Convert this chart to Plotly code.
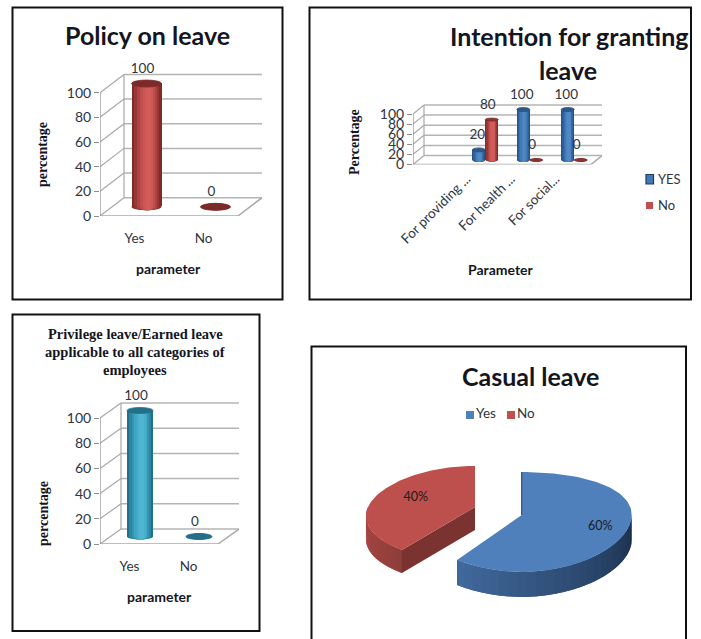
import math
import plotly.graph_objects as go

W, H = 701, 639

# Chart values
policy_categories = ["Yes", "No"]
policy_values = [100, 0]

intention_categories = ["", "For providing ...", "For health ...", "For social..."]
intention_yes = [None, 20, 100, 100]
intention_no = [None, 80, 0, 0]

privilege_categories = ["Yes", "No"]
privilege_values = [100, 0]

casual_labels = ["Yes", "No"]
casual_values = [60, 40]

y_ticks = [0, 20, 40, 60, 80, 100]

SANS = "Lato"
SERIF = "Liberation Serif"
INK = "#15151f"
TICK_INK = "#2e3440"
GRID = "#b4b4b4"
EDGE = "#8c8c8c"
HEADROOM_PX = 24

RED = ["#7e2b29", "#973634", "#ae4341", "#c04e4c", "#cc5755", "#d15c5a"]
BLUE = ["#28517f", "#30609a", "#3a6ea9", "#4379b5", "#4b82bf", "#5088c4"]
TEAL = ["#23708a", "#2b85a1", "#3596b3", "#3fa5c2", "#49afcc", "#4fb5d2"]

fig = go.Figure()
shapes = []
annotations = []


def px_x(px):
    return px / W


def px_y(py):
    return 1 - py / H


def add_text(text, x, y, size, family=SANS, bold=False, angle=0, color=INK):
    annotations.append(dict(
        text=f"<b>{text}</b>" if bold else text, x=px_x(x), y=px_y(y),
        xref="paper", yref="paper", xanchor="center", yanchor="middle",
        showarrow=False, textangle=angle, font=dict(size=size, family=family, color=color),
    ))


def add_frame(x0, y0, x1, y1):
    shapes.append(dict(type="rect", xref="paper", yref="paper", x0=px_x(x0), x1=px_x(x1),
                       y0=px_y(y0), y1=px_y(y1), line=dict(color="#111111", width=2),
                       fillcolor="rgba(0,0,0,0)", layer="below"))


class Panel:
    """An oblique 3-D style column plot on its own pair of axes."""

    def __init__(self, suffix, categories, left, front_right, back_right,
                 zero_y, full_y, depth_y, tick_size=14, tick_angle=0,
                 label_standoff=12, label_shift=0.0):
        self.suffix = suffix
        self.n = len(categories)
        self.cat_px = (front_right - left) / self.n
        self.ppu = (zero_y - full_y) / 100
        self.dx = (back_right - front_right) / self.cat_px
        self.dy = depth_y / self.ppu
        self.xref = "x" + suffix
        self.yref = "y" + suffix
        xname = "xaxis" + suffix
        yname = "yaxis" + suffix
        axes[xname] = dict(
            domain=[px_x(left), px_x(back_right)], automargin=False,
            range=[-0.5, self.n - 0.5 + self.dx], anchor=self.yref,
            tickmode="array", tickvals=[i + label_shift for i in range(self.n)],
            ticktext=categories, ticks="", showgrid=False, zeroline=False, showline=False,
            tickangle=tick_angle, ticklabelstandoff=label_standoff,
            tickfont=dict(size=13.5, family=SANS, color=TICK_INK),
        )
        # The range runs above the back wall so the value labels stay on the axis
        axes[yname] = dict(
            domain=[px_y(zero_y), px_y(full_y - depth_y - HEADROOM_PX)], automargin=False,
            range=[0, 100 + self.dy + HEADROOM_PX / self.ppu], anchor=self.xref,
            tickmode="array", tickvals=y_ticks, ticks="outside", ticklen=5, tickcolor=EDGE,
            tickwidth=1, showgrid=False, zeroline=False, showline=False,
            tickfont=dict(size=tick_size, family=SANS, color=TICK_INK),
        )
        self.walls()

    def line(self, pts, color=GRID, width=1.5):
        for (x0, y0), (x1, y1) in zip(pts, pts[1:]):
            shapes.append(dict(type="line", xref=self.xref, yref=self.yref, x0=x0, y0=y0,
                               x1=x1, y1=y1, line=dict(color=color, width=width), layer="below"))

    def walls(self):
        x0 = -0.5
        x1 = self.n - 0.5
        for v in y_ticks:
            self.line([(x0, v), (x0 + self.dx, v + self.dy)], color="#a8a8a8", width=1.2)
            self.line([(x0 + self.dx, v + self.dy), (x1 + self.dx, v + self.dy)])
        self.line([(x0, 0), (x1, 0), (x1 + self.dx, self.dy)], color="#a8a8a8", width=1.5)
        self.line([(x0, 0), (x0, 100)], color=EDGE, width=1.2)
        self.line([(x0 + self.dx, self.dy), (x0 + self.dx, 100 + self.dy)], color="#a8a8a8", width=1.2)

    def columns(self, values, shades, cap, width_px, cap_px, shift_px=0.0, label_dx=-4.0):
        """Cylinders built from nested bars, so the shading runs dark-light-dark."""
        xoff = self.dx / 2 + shift_px / self.cat_px
        base = self.dy / 2
        width = width_px / self.cat_px
        cap_h = cap_px / self.ppu
        xs = [i + xoff for i in range(self.n)]
        bands = len(shades)
        for k, colour in enumerate(shades):
            w = width * (1 - k / bands)
            drift = k * 0.012 * width
            fig.add_trace(go.Bar(
                x=[x + drift for x in xs], y=values, base=[base] * self.n, width=w,
                marker=dict(color=colour, line=dict(width=0)), xaxis=self.xref, yaxis=self.yref,
                showlegend=False, hoverinfo="skip",
            ))
            for x, v in zip(xs, values):
                if v is None:
                    continue
                shapes.append(dict(type="circle", xref=self.xref, yref=self.yref, layer="below",
                                   x0=x + drift - w / 2, x1=x + drift + w / 2,
                                   y0=base - cap_h / 2, y1=base + cap_h / 2,
                                   fillcolor=colour, line=dict(width=0)))
        for x, v in zip(xs, values):
            if v is None:
                continue
            shapes.append(dict(type="circle", xref=self.xref, yref=self.yref, layer="above",
                               x0=x - width / 2, x1=x + width / 2,
                               y0=base + v - cap_h / 2, y1=base + v + cap_h / 2,
                               fillcolor=cap, line=dict(color=shades[0], width=0.8)))
        kept = [(x, v) for x, v in zip(xs, values) if v is not None]
        fig.add_trace(go.Scatter(
            x=[x + label_dx / self.cat_px for x, _ in kept],
            y=[base + v + 14 / self.ppu for _, v in kept],
            text=[str(v) for _, v in kept], mode="text", cliponaxis=False,
            textfont=dict(size=13.5, family=SANS, color=TICK_INK), xaxis=self.xref, yaxis=self.yref,
            showlegend=False, hoverinfo="skip",
        ))


axes = {}

# Policy on leave
add_frame(12.5, 7.5, 282.5, 299.5)
add_text("Policy on leave", 147, 34.5, 25, bold=True)
policy = Panel("", policy_categories, 100, 238, 262, 216, 92.7, 18.3)
policy.columns(policy_values, RED, "#7a2a28", 30, 7)
add_text("percentage", 43, 155, 14, family=SERIF, bold=True, angle=-90)
add_text("parameter", 168, 268.5, 14, bold=True)

# Intention for granting leave
add_frame(309.5, 7.5, 691, 299.5)
add_text("Intention for granting", 569, 35.5, 25, bold=True)
add_text("leave", 568, 69.5, 25, bold=True)
intention = Panel("2", intention_categories, 413, 591, 602, 164.5, 114, 9,
                  tick_angle=-45, label_standoff=3, label_shift=-0.3)
intention.columns(intention_yes, BLUE, "#2a5a8c", 13, 4, shift_px=-6.5, label_dx=-1.5)
intention.columns(intention_no, RED, "#8d3432", 13, 3, shift_px=6.5, label_dx=-4)
add_text("Percentage", 354, 142, 14, family=SERIF, bold=True, angle=-90)
add_text("Parameter", 501, 269.5, 14, bold=True)

# Privilege leave
add_frame(12.5, 314.5, 259.5, 631)
add_text("Privilege leave/Earned leave", 135, 334, 14.5, family=SERIF, bold=True)
add_text("applicable to all categories of", 135, 352, 14.5, family=SERIF, bold=True)
add_text("employees", 135, 370, 14.5, family=SERIF, bold=True)
privilege = Panel("3", privilege_categories, 100, 218, 239, 544, 418, 15)
privilege.columns(privilege_values, TEAL, "#256f88", 26, 6)
add_text("percentage", 43, 514, 14, family=SERIF, bold=True, angle=-90)
add_text("parameter", 159, 596.5, 14, bold=True)

# Casual leave: a tilted, exploded pie on a pixel-scaled axis pair
add_frame(311.5, 346.5, 686, 660)
add_text("Casual leave", 530, 376.5, 25, bold=True)
axes["xaxis4"] = dict(domain=[px_x(312), px_x(686)], range=[312, 686], visible=False, anchor="y4", automargin=False)
axes["yaxis4"] = dict(domain=[0, px_y(348)], range=[639, 348], visible=False, anchor="x4", automargin=False)


def blend(a, b, t):
    ca = [int(a[i:i + 2], 16) for i in (1, 3, 5)]
    cb = [int(b[i:i + 2], 16) for i in (1, 3, 5)]
    return "#" + "".join(f"{round(p + (q - p) * t):02x}" for p, q in zip(ca, cb))


def rim(geo, theta):
    """Project an angle (clockwise from twelve o'clock) onto the tilted rim."""
    u = -math.cos(theta)
    x = geo["cx"] + geo["a"] * math.sin(theta) * (1 + geo["flare"] * u)
    y = geo["cy"] + geo["bm"] * u + geo["bq"] * u * u
    return x, y


def polygon(xs, ys, colour, width=0.0):
    fig.add_trace(go.Scatter(
        x=xs + xs[:1], y=ys + ys[:1], mode="lines", fill="toself", fillcolor=colour,
        line=dict(color=colour, width=width), xaxis="x4", yaxis="y4",
        showlegend=False, hoverinfo="skip",
    ))


def pie_slice(geo, start, end, side_from, side_to, side_stops, cut_colour, face):
    depth = geo["depth"]
    steps = 26
    # Each rim strip runs on under the next one, which hides the seams between them
    for i in range(steps):
        t0 = side_from + (side_to - side_from) * i / steps
        t1 = side_from + (side_to - side_from) * min(i + 2, steps) / steps
        pts = [rim(geo, t0 + (t1 - t0) * j / 4) for j in range(5)]
        xs = [p[0] for p in pts]
        ys = [p[1] for p in pts]
        polygon(xs + xs[::-1], ys + [y + depth for y in ys[::-1]],
                blend(side_stops[0], side_stops[1], i / (steps - 1)))
    if cut_colour:
        x_end, y_end = rim(geo, start)
        polygon([geo["cx"], x_end, x_end, geo["cx"]],
                [geo["cy"], y_end, y_end + depth, geo["cy"] + depth], cut_colour)
    arc = [rim(geo, start + (end - start) * i / 90) for i in range(91)]
    polygon([geo["cx"]] + [p[0] for p in arc], [geo["cy"]] + [p[1] for p in arc], face)


total = sum(casual_values)
turn = 2 * math.pi * casual_values[0] / total

blue_geo = dict(cx=521.7, cy=515, a=110, bm=50, bq=7, flare=0.0, depth=25)
red_geo = dict(cx=475, cy=507, a=107, bm=47.7, bq=6.7, flare=0.2, depth=23)

pie_slice(red_geo, turn, 2 * math.pi, 1.5 * math.pi, turn, ("#b24a47", "#8f3d3a"), "#7b3331", "#bd504d")
pie_slice(blue_geo, 0, turn, 0.5 * math.pi, turn, ("#1b2f4c", "#41689b"), None, "#4f80bc")
top_x, top_y = rim(blue_geo, 0)
fig.add_trace(go.Scatter(x=[blue_geo["cx"], top_x], y=[blue_geo["cy"], top_y], mode="lines",
                         line=dict(color="#1f3a5f", width=1), xaxis="x4", yaxis="y4",
                         showlegend=False, hoverinfo="skip"))


def slice_label(geo, mid, value, reach):
    x, y = rim(geo, mid)
    return (geo["cx"] + (x - geo["cx"]) * reach, geo["cy"] + (y - geo["cy"]) * reach,
            f"{value * 100 / total:.0f}%")


labels = [slice_label(blue_geo, turn / 2, casual_values[0], 0.75),
          slice_label(red_geo, turn + (2 * math.pi - turn) / 2, casual_values[1], 0.62)]
fig.add_trace(go.Scatter(x=[p[0] for p in labels], y=[p[1] for p in labels], text=[p[2] for p in labels],
                         mode="text", textfont=dict(size=12.5, family=SANS, color="#1a1a1a"),
                         xaxis="x4", yaxis="y4", showlegend=False, hoverinfo="skip"))

# Hand-spaced legend for the pie
for name, colour, x, y in [
    (casual_labels[0], "#4f80bc", 470, 415),
    (casual_labels[1], "#c0504d", 511, 415),
]:
    fig.add_trace(go.Scatter(x=[x], y=[y], text=[name], mode="markers+text", textposition="middle right",
                             marker=dict(symbol="square", size=8, color=colour, line=dict(width=0)),
                             textfont=dict(size=13.5, family=SANS, color=TICK_INK),
                             xaxis="x4", yaxis="y4", showlegend=False, hoverinfo="skip"))

# The second chart's legend sits in paper space beside its plot
annotations.append(dict(text="YES", x=px_x(656), y=px_y(179), xref="paper", yref="paper", xanchor="left",
                        yanchor="middle", showarrow=False, font=dict(size=13, family=SANS, color=TICK_INK)))
annotations.append(dict(text="No", x=px_x(656), y=px_y(205), xref="paper", yref="paper", xanchor="left",
                        yanchor="middle", showarrow=False, font=dict(size=13, family=SANS, color=TICK_INK)))
shapes.append(dict(type="rect", xref="paper", yref="paper", x0=px_x(646), x1=px_x(653.5), y0=px_y(184), y1=px_y(174.5),
                   fillcolor="#4379b5", line=dict(color="#1d3c63", width=1.2)))
shapes.append(dict(type="rect", xref="paper", yref="paper", x0=px_x(646), x1=px_x(653), y0=px_y(209), y1=px_y(202),
                   fillcolor="#c0504d", line=dict(width=0)))

fig.update_layout(
    width=W, height=H, margin=dict(l=0, r=0, t=0, b=0), autosize=False,
    paper_bgcolor="white", plot_bgcolor="rgba(0,0,0,0)", barmode="overlay",
    bargap=0, shapes=shapes, annotations=annotations, showlegend=False, **axes,
)

fig.write_html("out.html", config=dict(displayModeBar=False))
